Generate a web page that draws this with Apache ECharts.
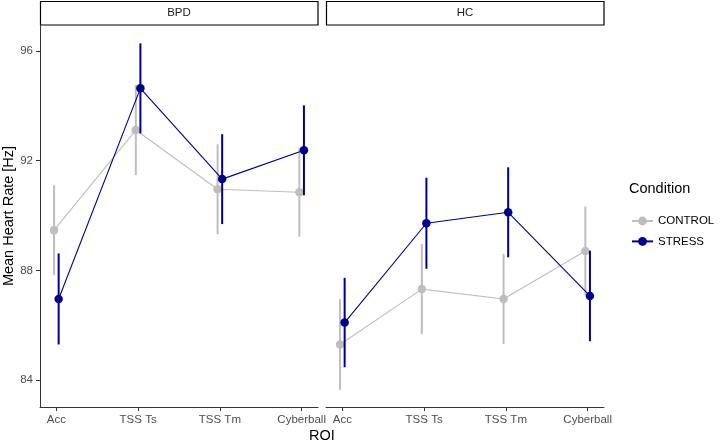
<!DOCTYPE html>
<html>
<head>
<meta charset="utf-8">
<script src="https://cdn.jsdelivr.net/npm/echarts@6/dist/echarts.min.js"></script>
<style>
  html, body { margin: 0; padding: 0; background: #ffffff; }
  #chart { width: 722px; height: 444px; }
</style>
</head>
<body>
<div id="chart"></div>
<script>
// ROI categories and y tick labels
var categories = ["Acc", "TSS Ts", "TSS Tm", "Cyberball"];
var yTicks = [84, 88, 92, 96];
var panels = ["BPD", "HC"];
var conditions = ["CONTROL", "STRESS"];

// means per ROI
var bpdControl = [89.47, 93.12, 90.96, 90.85];
var bpdStress = [86.96, 94.64, 91.33, 92.38];
var hcControl = [85.30, 87.32, 86.96, 88.71];
var hcStress = [86.10, 89.72, 90.12, 87.07];

// standard errors per ROI
var bpdControlSe = [1.64, 1.64, 1.64, 1.62];
var bpdStressSe = [1.66, 1.64, 1.64, 1.64];
var hcControlSe = [1.65, 1.64, 1.64, 1.62];
var hcStressSe = [1.63, 1.66, 1.64, 1.65];

var colors = { CONTROL: "#bebebe", STRESS: "#00008b" };
var dodge = { CONTROL: -0.028, STRESS: 0.028 };
var font = "Liberation Sans, Arial, sans-serif";

var chartDom = document.getElementById("chart");
var myChart = echarts.init(chartDom);

var grids = [
  { left: 40, top: 25, width: 278, height: 382 },
  { left: 326, top: 25, width: 278, height: 382 }
];

function makeX(i) {
  return {
    type: "value",
    gridIndex: i,
    min: 0.8,
    max: 4.2,
    axisLine: { show: true, lineStyle: { color: "#333333", width: 1 } },
    axisTick: { show: true, length: 4, customValues: [1, 2, 3, 4], lineStyle: { color: "#333333" } },
    axisLabel: {
      show: true,
      customValues: [1, 2, 3, 4],
      margin: 7,
      color: "#4d4d4d",
      fontSize: 11.5,
      fontFamily: font,
      formatter: function (v) { return categories[Math.round(v) - 1]; }
    },
    splitLine: { show: false }
  };
}

function makeY(i) {
  return {
    type: "value",
    gridIndex: i,
    min: 83.02,
    max: 96.95,
    axisLine: { show: i === 0, lineStyle: { color: "#333333", width: 1 } },
    axisTick: { show: i === 0, length: 4, customValues: yTicks, lineStyle: { color: "#333333" } },
    axisLabel: {
      show: i === 0,
      customValues: yTicks,
      margin: 7,
      color: "#4d4d4d",
      fontSize: 11.5,
      fontFamily: font
    },
    splitLine: { show: false },
    name: i === 0 ? "Mean Heart Rate [Hz]" : "",
    nameLocation: "middle",
    nameGap: 24,
    nameTextStyle: { color: "#000000", fontSize: 14.5, fontFamily: font }
  };
}

var series = [];
var panelData = [
  { CONTROL: [bpdControl, bpdControlSe], STRESS: [bpdStress, bpdStressSe] },
  { CONTROL: [hcControl, hcControlSe], STRESS: [hcStress, hcStressSe] }
];

panelData.forEach(function (pd, gi) {
  conditions.forEach(function (cond, ci) {
    var means = pd[cond][0];
    var se = pd[cond][1];
    var pts = means.map(function (m, k) { return [k + 1 + dodge[cond], m]; });
    var bars = means.map(function (m, k) { return [k + 1 + dodge[cond], m - se[k], m + se[k]]; });
    series.push({
      name: cond,
      type: "line",
      xAxisIndex: gi,
      yAxisIndex: gi,
      data: pts,
      symbol: "circle",
      symbolSize: 8.5,
      showSymbol: true,
      color: colors[cond],
      lineStyle: { color: colors[cond], width: 1.1 },
      itemStyle: { color: colors[cond] },
      z: 2 + ci * 2,
      silent: true
    });
    series.push({
      name: cond + "_err",
      type: "custom",
      xAxisIndex: gi,
      yAxisIndex: gi,
      data: bars,
      z: 3 + ci * 2,
      silent: true,
      renderItem: function (params, api) {
        var a = api.coord([api.value(0), api.value(1)]);
        var b = api.coord([api.value(0), api.value(2)]);
        return {
          type: "line",
          shape: { x1: a[0], y1: a[1], x2: b[0], y2: b[1] },
          style: { stroke: colors[cond], lineWidth: 2 }
        };
      }
    });
  });
});

var option = {
  backgroundColor: "#ffffff",
  animation: false,
  grid: grids,
  xAxis: [makeX(0), makeX(1)],
  yAxis: [makeY(0), makeY(1)],
  legend: {
    data: conditions,
    orient: "vertical",
    left: 626,
    top: 210,
    itemWidth: 21,
    itemHeight: 11,
    itemGap: 8.4,
    textStyle: { color: "#000000", fontSize: 11.5, fontFamily: font }
  },
  graphic: [
    {
      type: "rect",
      shape: { x: 40.5, y: 1.5, width: 277.5, height: 23.5 },
      style: { fill: "#ffffff", stroke: "#000000", lineWidth: 1.2 }
    },
    {
      type: "text",
      x: 179, y: 13,
      style: { text: panels[0], fill: "#1a1a1a", fontSize: 11.5, fontFamily: font, align: "center", verticalAlign: "middle" }
    },
    {
      type: "rect",
      shape: { x: 326.5, y: 1.5, width: 277.5, height: 23.5 },
      style: { fill: "#ffffff", stroke: "#000000", lineWidth: 1.2 }
    },
    {
      type: "text",
      x: 465, y: 13,
      style: { text: panels[1], fill: "#1a1a1a", fontSize: 11.5, fontFamily: font, align: "center", verticalAlign: "middle" }
    },
    {
      type: "text",
      x: 322, y: 436,
      style: { text: "ROI", fill: "#000000", fontSize: 14.5, fontFamily: font, align: "center", verticalAlign: "middle" }
    },
    {
      type: "text",
      x: 629, y: 189,
      style: { text: "Condition", fill: "#000000", fontSize: 14.5, fontFamily: font, align: "left", verticalAlign: "middle" }
    }
  ],
  series: series
};

myChart.setOption(option);
</script>
</body>
</html>
